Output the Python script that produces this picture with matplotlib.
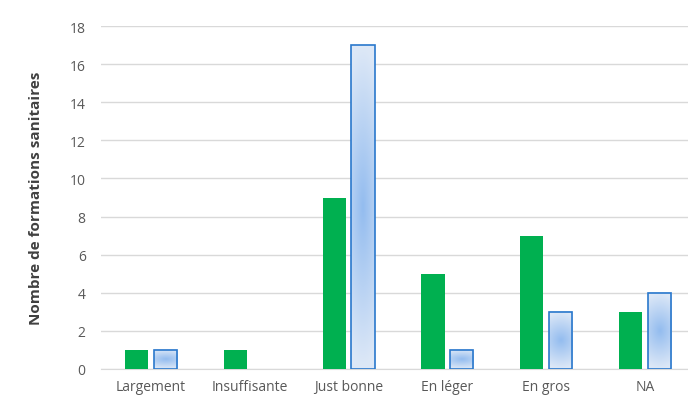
import numpy as np
import matplotlib.pyplot as plt
from matplotlib.colors import LinearSegmentedColormap

categories = ['Largement', 'Insuffisante', 'Just bonne', 'En léger', 'En gros', 'NA']
green_vals = [1, 1, 9, 5, 7, 3]
blue_vals = [1, 0, 17, 1, 3, 4]

plt.rcParams['font.family'] = ['Open Sans', 'DejaVu Sans']

fig = plt.figure(figsize=(6.88, 4.02), dpi=100)
ax = fig.add_axes([101 / 688, 32 / 402, 1 - 101 / 688, 343 / 402])

x = np.arange(len(categories))
w = 0.235
off = 0.145

ax.bar(x - off, green_vals, w, color='#00B050', zorder=3)

# gradient fill for the second series (dark center, light edges)
cmap = LinearSegmentedColormap.from_list('bl', ['#93BCEF', '#DDE8F7'])
ny, nx = 60, 30
u = np.linspace(-1, 1, nx)
v = np.linspace(-1, 1, ny)
U, V = np.meshgrid(u, v)
T = np.clip(np.sqrt((0.45 * U) ** 2 + V ** 2), 0, 1)

for xi, val in zip(x, blue_vals):
    if val <= 0:
        continue  # nothing drawn for empty bars
    b = ax.bar(xi + off, val, w, facecolor='none', edgecolor='#2A78CC',
               linewidth=1.2, zorder=4)[0]
    x0, y0 = b.get_x(), b.get_y()
    ax.imshow(T, cmap=cmap, vmin=0, vmax=1, aspect='auto',
              extent=[x0, x0 + b.get_width(), y0, y0 + b.get_height()],
              zorder=3, interpolation='bilinear')

ax.set_xlim(-0.506, 5.435)
ax.set_ylim(0, 18)
ax.set_yticks(range(0, 19, 2))
ax.set_xticks(x)
ax.set_xticklabels(categories)

ax.grid(axis='y', color='#D9D9D9', linewidth=1, zorder=0)
ax.set_axisbelow(True)
for s in ['top', 'right', 'left']:
    ax.spines[s].set_visible(False)
ax.spines['bottom'].set_color('#D9D9D9')
ax.tick_params(length=0, colors='#595959', labelsize=10)
ax.tick_params(axis='y', pad=11)
ax.tick_params(axis='x', pad=7)

ax.set_ylabel('Nombre de formations sanitaires', fontsize=11, fontweight='bold',
              color='#404040', labelpad=19)

fig.savefig('out.png', dpi=100)
